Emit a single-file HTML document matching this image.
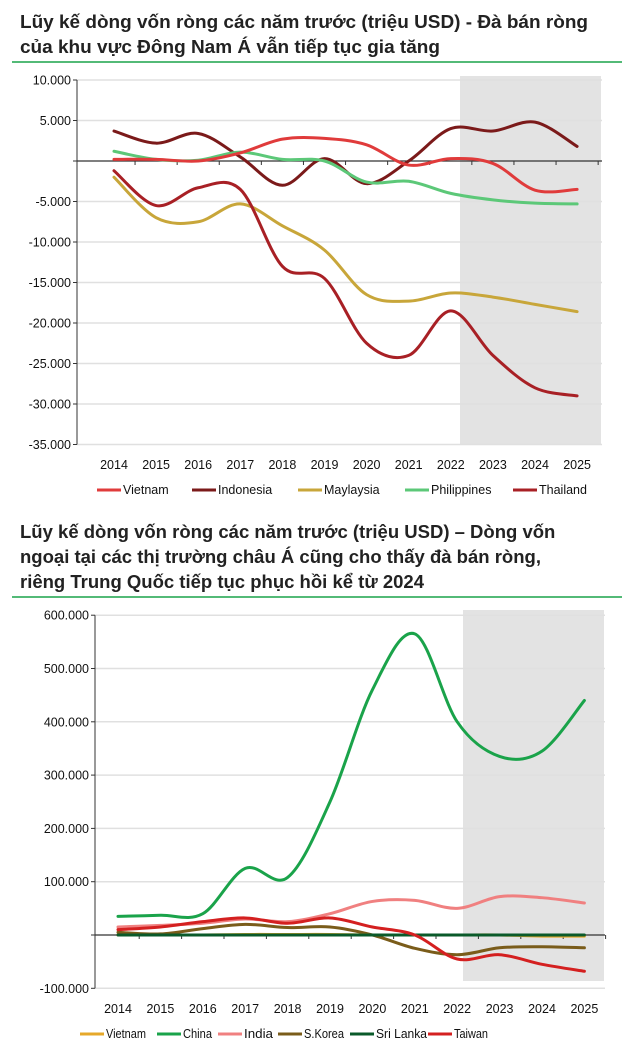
<!DOCTYPE html>
<html><head><meta charset="utf-8"><style>
body{margin:0;background:#fff;width:638px;height:1059px;overflow:hidden;font-family:"Liberation Sans",sans-serif}
</style></head><body>
<svg id="s" width="638" height="1059" xmlns="http://www.w3.org/2000/svg" font-family="Liberation Sans, sans-serif">
<text x="20" y="28" font-size="18.5" font-weight="bold" fill="#222" textLength="568" lengthAdjust="spacingAndGlyphs">Lũy kế dòng vốn ròng các năm trước (triệu USD) - Đà bán ròng</text>
<text x="20" y="53" font-size="18.5" font-weight="bold" fill="#222" textLength="420" lengthAdjust="spacingAndGlyphs">của khu vực Đông Nam Á vẫn tiếp tục gia tăng</text>
<line x1="12" y1="62" x2="622" y2="62" stroke="#1aa34a" stroke-width="1.5"/>
<text x="20" y="538" font-size="18.5" font-weight="bold" fill="#222">Lũy kế dòng vốn ròng các năm trước (triệu USD) – Dòng vốn</text>
<text x="20" y="563" font-size="18.5" font-weight="bold" fill="#222">ngoại tại các thị trường châu Á cũng cho thấy đà bán ròng,</text>
<text x="20" y="588" font-size="18.5" font-weight="bold" fill="#222">riêng Trung Quốc tiếp tục phục hồi kể từ 2024</text>
<line x1="12" y1="597" x2="622" y2="597" stroke="#1aa34a" stroke-width="1.5"/>
<g id="g"></g>
</svg>
<script>
const g=document.getElementById('g');let h='';
function path(pts){let d='M'+pts[0][0]+','+pts[0][1];for(let i=0;i<pts.length-1;i++){const p0=pts[i-1]||pts[i],p1=pts[i],p2=pts[i+1],p3=pts[i+2]||p2;d+=' C'+(p1[0]+(p2[0]-p0[0])/6)+','+(p1[1]+(p2[1]-p0[1])/6)+' '+(p2[0]-(p3[0]-p1[0])/6)+','+(p2[1]-(p3[1]-p1[1])/6)+' '+p2[0]+','+p2[1];}return d;}
function chart(o){
 h+=`<rect x="${o.sx}" y="${o.st}" width="${o.sw}" height="${o.sh}" fill="#e3e3e3"/>`;
 o.ticks.forEach(t=>{const y=o.y0-t*o.k;h+=`<line x1="${o.ax}" y1="${y}" x2="${o.ax+o.w}" y2="${y}" stroke="${t==0?'#333':'#e0e0e0'}" stroke-width="${t==0?1.2:1.5}"/>`;h+=`<line x1="${o.ax-4}" y1="${y}" x2="${o.ax}" y2="${y}" stroke="#333"/>`;h+=`<text x="${o.ax-6}" y="${y+4.5}" font-size="12.5" text-anchor="end" fill="#111">${o.lab(t)}</text>`;});
 h+=`<line x1="${o.ax}" y1="${o.y0-o.ticks[0]*o.k}" x2="${o.ax}" y2="${o.y0-o.ticks[o.ticks.length-1]*o.k}" stroke="#333"/>`;
 for(let i=0;i<12;i++){const x=o.x0+i*o.dx;h+=`<text x="${x}" y="${o.yl}" font-size="12.5" text-anchor="middle" fill="#111">${2014+i}</text>`;h+=`<line x1="${x+o.dx/2}" y1="${o.y0}" x2="${x+o.dx/2}" y2="${o.y0+4}" stroke="#333"/>`;}
 o.series.forEach(s=>{const pts=s[2].map((v,i)=>[o.x0+i*o.dx,o.y0-v*o.k]);h+=`<path d="${path(pts)}" fill="none" stroke="${s[1]}" stroke-width="3" stroke-linecap="round"/>`;});
 o.series.forEach(s=>{const lx=s[3];const tl=o.cond?` textLength="${(s[0].length*5.7).toFixed(0)}" lengthAdjust="spacingAndGlyphs"`:'';h+=`<line x1="${lx}" y1="${o.ly-4}" x2="${lx+24}" y2="${o.ly-4}" stroke="${s[1]}" stroke-width="3"/><text x="${lx+26}" y="${o.ly}" font-size="12.5" fill="#111"${tl}>${s[0]}</text>`;});
}
chart({sx:460,st:76,sw:141,sh:369,ax:77,w:525,y0:161,k:8.1,x0:114,dx:42.1,yl:469,ly:494,
 ticks:[10,5,0,-5,-10,-15,-20,-25,-30,-35],lab:t=>t==0?'':(t<0?'-':'')+Math.abs(t)+'.000',
 series:[
 ['Indonesia','#7b1a1a',[3.7,2.2,3.4,0.5,-3,0.3,-2.8,0,4,3.7,4.8,1.8],192],
 ['Maylaysia','#c8a63a',[-2,-7,-7.5,-5.3,-8,-11,-16.5,-17.3,-16.3,-16.8,-17.7,-18.6],298],
 ['Philippines','#5cc878',[1.2,0.2,0.1,1.1,0.2,0,-2.6,-2.5,-4,-4.8,-5.2,-5.3],405],
 ['Thailand','#a82025',[-1.2,-5.5,-3.3,-3.5,-13,-14.5,-22.5,-24,-18.5,-24,-28,-29],513],
 ['Vietnam','#e03b3b',[0.2,0.2,0,1,2.7,2.8,2,-0.5,0.3,-0.3,-3.6,-3.5],97]]});
chart({sx:463,st:610,sw:141,sh:371,ax:95,w:510,y0:935,k:0.533,x0:118,dx:42.4,yl:1013,ly:1038,cond:true,
 ticks:[600,500,400,300,200,100,0,-100],lab:t=>t==0?'':(t<0?'-':'')+Math.abs(t)+'.000',
 series:[
 ['India','#f08080',[15,18,22,30,25,40,63,65,50,72,70,60],218],
 ['S.Korea','#7a5c1a',[5,2,12,20,14,15,0,-25,-37,-24,-22,-24],278],
 ['Vietnam','#e6a82a',[0,0,0,1,1,1,0,0,0,0,-2,-2],80],
 ['Sri Lanka','#0a5a2a',[0,0,0,0,0,0,0,0,0,0,0,0],350],
 ['Taiwan','#d42020',[10,15,25,32,22,32,15,0,-45,-37,-55,-68],428],
 ['China','#1aa34a',[35,37,40,125,108,250,460,565,400,335,345,440],157]]});
g.innerHTML=h;
</script>
</body></html>
